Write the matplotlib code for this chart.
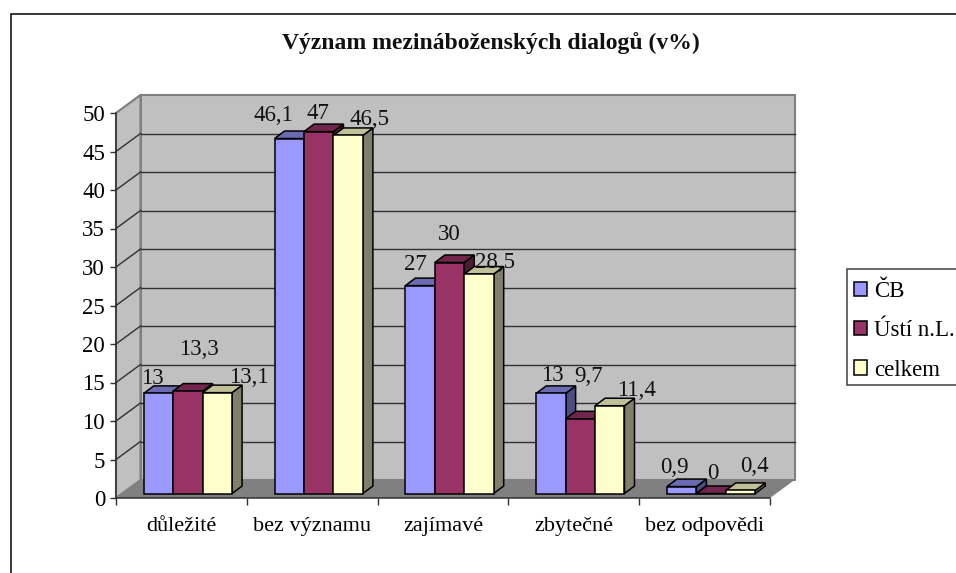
import matplotlib
matplotlib.use("Agg")
import matplotlib.pyplot as plt
from matplotlib.patches import Patch, Rectangle

plt.rcParams['font.family'] = ['Liberation Serif', 'DejaVu Serif']

categories = ["důležité", "bez významu", "zajímavé", "zbytečné", "bez odpovědi"]
series_names = ["ČB", "Ústí n.L.", "celkem"]
cb = [13, 46.1, 27, 13, 0.9]
usti = [13.3, 47, 30, 9.7, 0]
celkem = [13.1, 46.5, 28.5, 11.4, 0.4]
yticks = list(range(0, 55, 5))
title = "Význam mezináboženských dialogů (v%)"

front = ["#9999FF", "#993366", "#FFFFCC"]
top = ["#6B6BB3", "#73264D", "#C0C099"]
side = ["#4D4D80", "#4D1A33", "#80806A"]

# pixel layout
W, H = 956, 573
AX_L, AX_R, AX_T, AX_B = 116, 770, 113, 498
WALL_DX, WALL_DY = 24.5, 18
BAR_DX, BAR_DY = 10, 7.5
BAR_BASE_PX = 4.5
# data label offsets from each bar's top centre, in pixels (right, up)
label_dx = [[-6.5, 11, 31], [-16, -1, 21], [-5, -0.6, 16], [1, 8, 27], [-7, 2, 14]]
label_dy = [[15, 42, 15], [23.5, 17.6, 16.4], [21.6, 28.5, 12], [18, 42, 15], [19, 20, 24]]

fig = plt.figure(figsize=(W / 100, H / 100), dpi=100, facecolor="white")
ax = fig.add_axes([AX_L / W, 1 - AX_B / H, (AX_R - AX_L) / W, (AX_B - AX_T) / H], facecolor="none")
ax.set_xlim(0, len(categories))
ax.set_ylim(0, 50)
ux = len(categories) / (AX_R - AX_L)
uy = 50 / (AX_B - AX_T)
wx, wy = WALL_DX * ux, WALL_DY * uy
bx, by = BAR_DX * ux, BAR_DY * uy
n = len(categories)

# outer frame
fig.add_artist(Rectangle((11 / W, -0.1), 1.1, 1.1 - 14 / H, transform=fig.transFigure,
                         fill=False, ec="black", lw=1.1))

# walls and floor
ax.fill([0, wx, wx, 0], [0, wy, 50 + wy, 50], fc="#C0C0C0", ec="#808080", lw=1.5, clip_on=False, zorder=1)
ax.fill([wx, n + wx, n + wx, wx], [wy, wy, 50 + wy, 50 + wy], fc="#C0C0C0", ec="#808080", lw=1.5, clip_on=False, zorder=1)
ax.fill([0, n, n + wx, wx], [0, 0, wy, wy], fc="#808080", ec="none", clip_on=False, zorder=2)

# grid lines
for v in yticks[1:]:
    ec = "#808080" if v == 50 else "#303030"
    if v < 50:
        ax.plot([wx, n + wx], [v + wy, v + wy], color=ec, lw=1, clip_on=False, zorder=2)
    ax.plot([0, wx], [v, v + wy], color=ec, lw=1, clip_on=False, zorder=3)

# bars
width = 0.225
base = BAR_BASE_PX * uy
series = [cb, usti, celkem]
for j, vals in enumerate(series):
    xs = [i + 0.55 + (j - 1) * width for i in range(n)]
    z = 5 + j
    for x, v in zip(xs, vals):
        l, r = x - width / 2, x + width / 2
        t = base + v
        ax.fill([r, r + bx, r + bx, r], [base, base + by, t + by, t], fc=side[j], ec="black", lw=1.1,
                clip_on=False, zorder=z)
        ax.fill([l, l + bx, r + bx, r], [t, t + by, t + by, t], fc=top[j], ec="black", lw=1.1,
                clip_on=False, zorder=z)
    ax.bar(xs, vals, width=width, bottom=base, color=front[j], edgecolor="black", linewidth=1.1,
           clip_on=False, zorder=z + 0.5)

# data labels
for j, vals in enumerate(series):
    for i, v in enumerate(vals):
        x = i + 0.55 + (j - 1) * width
        ax.annotate(f"{v:g}".replace(".", ","), (x, base + v),
                    xytext=(label_dx[i][j] * 0.72, label_dy[i][j] * 0.72), textcoords="offset points",
                    ha="center", va="center", fontsize=16.5, color="#111111", zorder=10, annotation_clip=False)

# axes
for s in ("top", "right"):
    ax.spines[s].set_visible(False)
for s in ("left", "bottom"):
    ax.spines[s].set_color("#303030")
    ax.spines[s].set_linewidth(1.1)
    ax.spines[s].set_zorder(4)
ax.set_yticks(yticks)
ax.tick_params(axis="y", length=4.3, width=1, color="#303030", pad=3.6, labelsize=16.5)
ax.set_xticks(range(n + 1))
ax.set_xticklabels([])
ax.tick_params(axis="x", which="major", length=5, width=1, color="#303030")
ax.set_xticks([i + 0.5 for i in range(n)], minor=True)
ax.set_xticklabels(categories, minor=True, fontsize=16)
ax.tick_params(axis="x", which="minor", length=0, pad=14)

fig.text(491 / W, 1 - 43 / H, title, ha="center", va="center", fontsize=17, fontweight="bold", color="#111111")

# legend: frame runs off the right edge of the picture
fig.add_artist(Rectangle((847 / W, 1 - 385 / H), 0.2, 116 / H, transform=fig.transFigure,
                         fc="white", ec="#404040", lw=1.1, zorder=0.5))
handles = [Patch(fc=c, ec="black", lw=1.1) for c in front]
leg = fig.legend(handles, series_names, loc="upper left", bbox_to_anchor=(854 / W, 1 - 281 / H),
                 frameon=False, fontsize=16.5, borderpad=0, borderaxespad=0,
                 handlelength=0.58, handleheight=0.58, handletextpad=0.3, labelspacing=0.8)

fig.savefig("out.png", dpi=100)
